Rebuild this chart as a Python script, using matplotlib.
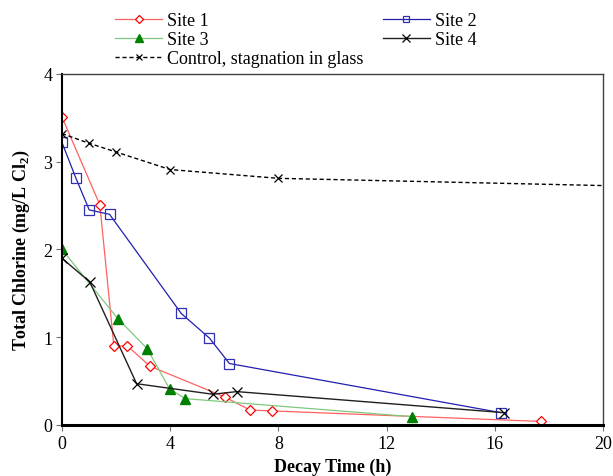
import matplotlib
matplotlib.use('Agg')
import matplotlib.pyplot as plt

plt.rcParams['font.family'] = ['Liberation Serif', 'DejaVu Serif']
plt.rcParams['mathtext.fontset'] = 'custom'
plt.rcParams['mathtext.rm'] = 'Liberation Serif'
plt.rcParams['mathtext.bf'] = 'Liberation Serif:bold'

# decay time (h) and total chlorine (mg/L Cl2)
site1_t = [0, 1.40, 1.92, 2.42, 3.25, 6.01, 6.95, 7.76, 17.7]
site1_c = [3.51, 2.51, 0.90, 0.90, 0.67, 0.32, 0.17, 0.16, 0.04]
site2_t = [0, 0.52, 1.01, 1.76, 4.41, 5.45, 6.19, 16.22]
site2_c = [3.22, 2.81, 2.45, 2.40, 1.27, 0.99, 0.70, 0.14]
site3_t = [0, 2.07, 3.15, 3.98, 4.56, 12.92]
site3_c = [2.0, 1.21, 0.87, 0.41, 0.30, 0.095]
site4_t = [0, 1.03, 2.76, 5.57, 6.46, 16.34]
site4_c = [1.90, 1.63, 0.47, 0.35, 0.38, 0.14]
control_t = [0, 1, 2, 4, 8, 24]
control_c = [3.32, 3.21, 3.11, 2.91, 2.81, 2.70]

fig = plt.figure(figsize=(6.13, 4.77), dpi=100)
ax = fig.add_axes([0.101, 0.107, 0.883, 0.736])

h1, = ax.plot(site1_t, site1_c, color='#ff6060', lw=0.9, marker='D', ms=5.5,
              mfc='white', mec='red', mew=0.9, label='Site 1')
h2, = ax.plot(site2_t, site2_c, color='#2020b0', lw=0.9, marker='s', ms=6.5,
              mfc='none', mec='#3030b0', mew=0.9, label='Site 2')
h3, = ax.plot(site3_t, site3_c, color='#80c880', lw=0.9, marker='^', ms=7,
              mfc='green', mec='green', label='Site 3')
h4, = ax.plot(site4_t, site4_c, color='#202020', lw=1.0, marker='x', ms=7,
              mec='black', mew=0.9, label='Site 4')
h5, = ax.plot(control_t, control_c, color='black', lw=1.0, ls=(0, (3, 2)),
              marker='x', ms=6, mew=0.9, label='Control, stagnation in glass')

ax.set_xlim(0, 20)
ax.set_ylim(0, 4)
ax.set_xticks([0, 4, 8, 12, 16, 20])
ax.set_yticks([0, 1, 2, 3, 4])
ax.tick_params(direction='out', length=4, width=0.8, color='#707070',
               labelsize=13, pad=3)
ax.spines['bottom'].set_linewidth(2.2)
ax.spines['left'].set_linewidth(1.5)
ax.spines['top'].set_linewidth(1.0)
ax.spines['right'].set_linewidth(1.0)
for s in ['top', 'right']:
    ax.spines[s].set_color('#404040')

ax.set_xlabel('Decay Time (h)', fontsize=13, fontweight='bold', labelpad=4)
ax.set_ylabel(r'Total Chlorine (mg/L Cl$_\mathbf{2}$)', fontsize=13,
              fontweight='bold', labelpad=8)

fig.legend(handles=[h1, h3, h5, h2, h4], ncol=2, frameon=False,
           loc='upper left', bbox_to_anchor=(0.170, 0.995), fontsize=13,
           handlelength=2.6, handletextpad=0.3, labelspacing=0.1,
           columnspacing=1.06, borderaxespad=0.2, markerscale=0.75)

fig.savefig('out.png', dpi=100)
